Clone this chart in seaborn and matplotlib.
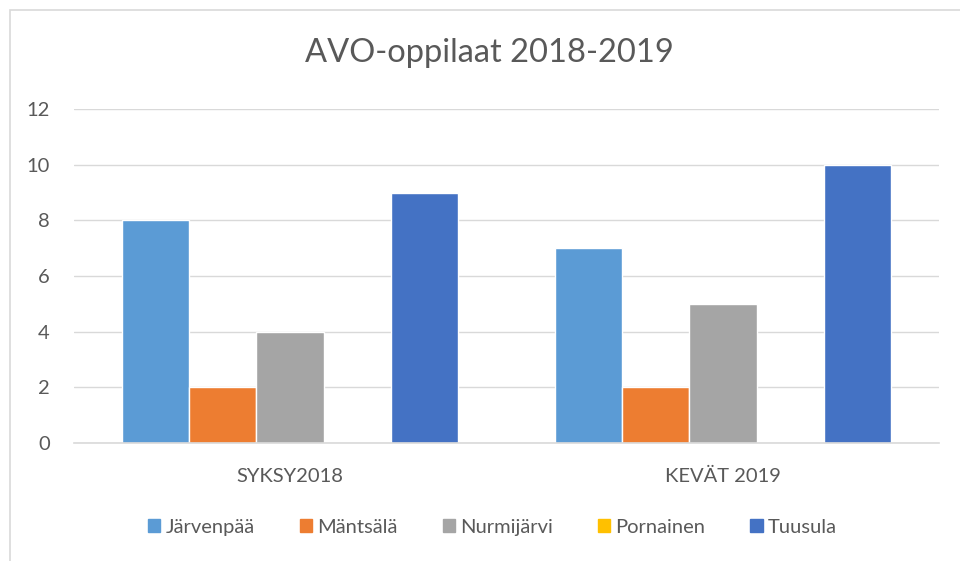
import matplotlib
matplotlib.use("Agg")
import matplotlib.pyplot as plt
import matplotlib.patches as mpatches
import seaborn as sns
import pandas as pd

# ── data ──────────────────────────────────────────────────────────────────────
periods = ["SYKSY2018", "KEVÄT 2019"]
towns   = ["Järvenpää", "Mäntsälä", "Nurmijärvi", "Pornainen", "Tuusula"]
values  = {
    "Järvenpää" : [8, 7],
    "Mäntsälä"  : [2, 2],
    "Nurmijärvi": [4, 5],
    "Pornainen" : [0, 0],
    "Tuusula"   : [9, 10],
}
colors = ["#5B9BD5", "#ED7D31", "#A5A5A5", "#FFC000", "#4472C4"]

rows = [(p, t, values[t][i]) for t in towns for i, p in enumerate(periods)]
df = pd.DataFrame(rows, columns=["period", "town", "count"])

sns.set_style("white")
plt.rcParams["font.family"] = ["Lato", "DejaVu Sans"]
TXT = "#595959"

fig = plt.figure(figsize=(9.6, 5.61), dpi=100)
ax = fig.add_axes([0.0766, 0.2103, 0.9020, 0.5954])

sns.barplot(data=df, x="period", y="count", hue="town", order=periods,
            hue_order=towns, palette=colors, width=0.775, gap=0,
            saturation=1, legend=False, ax=ax)

ax.set_xlim(-0.5, 1.5)
ax.set_ylim(0, 12)
ax.set_yticks(range(0, 13, 2))
ax.grid(axis="y", color="#D9D9D9", linewidth=1)
ax.set_axisbelow(True)
for s in ["top", "right", "left"]:
    ax.spines[s].set_visible(False)
ax.spines["bottom"].set_color("#D9D9D9")
ax.spines["bottom"].set_linewidth(1.2)
ax.tick_params(axis="both", length=0, labelsize=14.5, colors=TXT)
ax.tick_params(axis="y", pad=17)
ax.tick_params(axis="x", pad=18)
ax.set_xlabel("")
ax.set_ylabel("")

fig.text(0.51, 0.905, "AVO-oppilaat 2018-2019", ha="center", va="center",
         fontsize=23.5, color=TXT)

handles = [mpatches.Patch(color=c, label=t) for t, c in zip(towns, colors)]
fig.legend(handles=handles, loc="center", bbox_to_anchor=(0.513, 0.06),
           ncol=5, frameon=False, fontsize=14.5, labelcolor=TXT,
           handlelength=0.6, handleheight=0.6, handletextpad=0.25,
           columnspacing=2.25)

# chart frame (left/top edge visible)
fig.patches.append(mpatches.Rectangle((10 / 960, -0.1), 1.2, 1 - 10 / 561 + 0.1,
                                      transform=fig.transFigure, fill=False,
                                      edgecolor="#D9D9D9", linewidth=1.2))

fig.savefig("out.png", dpi=100, facecolor="white")
